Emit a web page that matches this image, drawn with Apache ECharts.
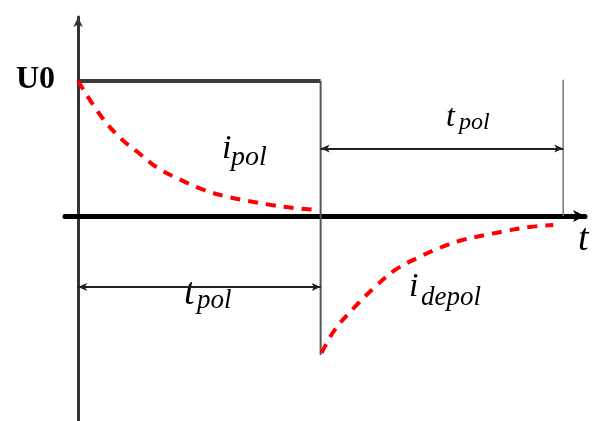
<!DOCTYPE html>
<html>
<head>
<meta charset="utf-8">
<script src="https://cdn.jsdelivr.net/npm/echarts@6/dist/echarts.min.js"></script>
<style>
  html, body { margin: 0; padding: 0; background: #fff; }
  #chart { width: 592px; height: 421px; }
</style>
</head>
<body>
<div id="chart"></div>
<script>
// time in units of t_pol, value in units of U0
const polT = [0, 0.091, 0.174, 0.245, 0.328, 0.423, 0.519, 0.602, 0.701, 0.797, 0.888, 0.992];
const polI = [1, 0.748, 0.578, 0.474, 0.356, 0.267, 0.193, 0.148, 0.111, 0.081, 0.059, 0.044];
const depolT = [1.004, 1.058, 1.141, 1.224, 1.307, 1.407, 1.490, 1.585, 1.680, 1.763, 1.863, 1.959];
const depolI = [-1.015, -0.844, -0.674, -0.526, -0.400, -0.304, -0.237, -0.178, -0.141, -0.111, -0.081, -0.067];
const pulseTop = [[0, 1], [1, 1]];
const pulseDrop = [[1, 1], [1, -1.03]];
const endMark = [[2, 1.01], [2, 0]];
const spans = [[1, 2, 0.5], [0, 1, -0.526]]; // from, to, level

const chart = echarts.init(document.getElementById("chart"));

function pairs(xs, ys) {
  return xs.map((x, i) => [x, ys[i]]);
}

const serif = "'Liberation Serif', 'DejaVu Serif', serif";

// x = left edge, b = baseline
function txt(x, b, s, size, style, weight) {
  return {
    type: "text",
    x: x,
    y: b - Math.round(size * 0.82),
    style: {
      text: s,
      font: (style || "italic") + " " + (weight || "normal") + " " + size + "px " + serif,
      fill: "#000",
      verticalAlign: "top"
    }
  };
}

let option = {
  animation: false,
  grid: { left: 65, right: 7, top: 17, bottom: 0 },
  xAxis: {
    type: "value",
    min: -0.054,
    max: 2.09,
    axisLine: {
      onZero: true,
      symbol: ["none", "arrow"],
      symbolSize: [9, 12],
      lineStyle: { color: "#000", width: 5 }
    },
    axisTick: { show: false },
    axisLabel: { show: false },
    splitLine: { show: false }
  },
  yAxis: {
    type: "value",
    min: -1.519,
    max: 1.474,
    axisLine: {
      onZero: true,
      symbol: ["none", "arrow"],
      symbolSize: [7, 10],
      lineStyle: { color: "#333", width: 3 }
    },
    axisTick: { show: false },
    axisLabel: { show: false },
    splitLine: { show: false }
  },
  series: [
    {
      type: "line",
      data: pulseTop,
      showSymbol: false,
      lineStyle: { color: "#3c3c3c", width: 4 },
      z: 3
    },
    {
      type: "line",
      data: pulseDrop,
      showSymbol: false,
      lineStyle: { color: "#555", width: 2 },
      z: 3
    },
    {
      type: "line",
      data: endMark,
      showSymbol: false,
      lineStyle: { color: "#777", width: 1.5 },
      z: 3
    },
    {
      type: "line",
      data: pairs(polT, polI),
      smooth: 0.4,
      showSymbol: false,
      lineStyle: { color: "#ff0000", width: 4, type: [10, 8] },
      z: 4
    },
    {
      type: "line",
      data: pairs(depolT, depolI),
      smooth: 0.4,
      showSymbol: false,
      lineStyle: { color: "#ff0000", width: 4, type: [10, 8] },
      z: 4
    },
    {
      type: "line",
      data: [],
      markLine: {
        silent: true,
        symbol: ["arrow", "arrow"],
        symbolSize: [6, 9],
        label: { show: false },
        lineStyle: { color: "#222", width: 2, type: "solid" },
        data: spans.map(s => [{ coord: [s[0], s[2]] }, { coord: [s[1], s[2]] }])
      }
    }
  ],
  graphic: [
    txt(16, 90, "U0", 32, "normal", "bold"),
    txt(446, 128, "t", 32),
    txt(459, 131, "pol", 24),
    txt(222, 160, "i", 34),
    txt(231, 167, "pol", 28),
    txt(409, 298, "i", 34),
    txt(421, 306, "depol", 27),
    txt(184, 306, "t", 38),
    txt(197, 309, "pol", 27),
    txt(578, 252, "t", 38)
  ]
};
chart.setOption(option);
</script>
</body>
</html>
